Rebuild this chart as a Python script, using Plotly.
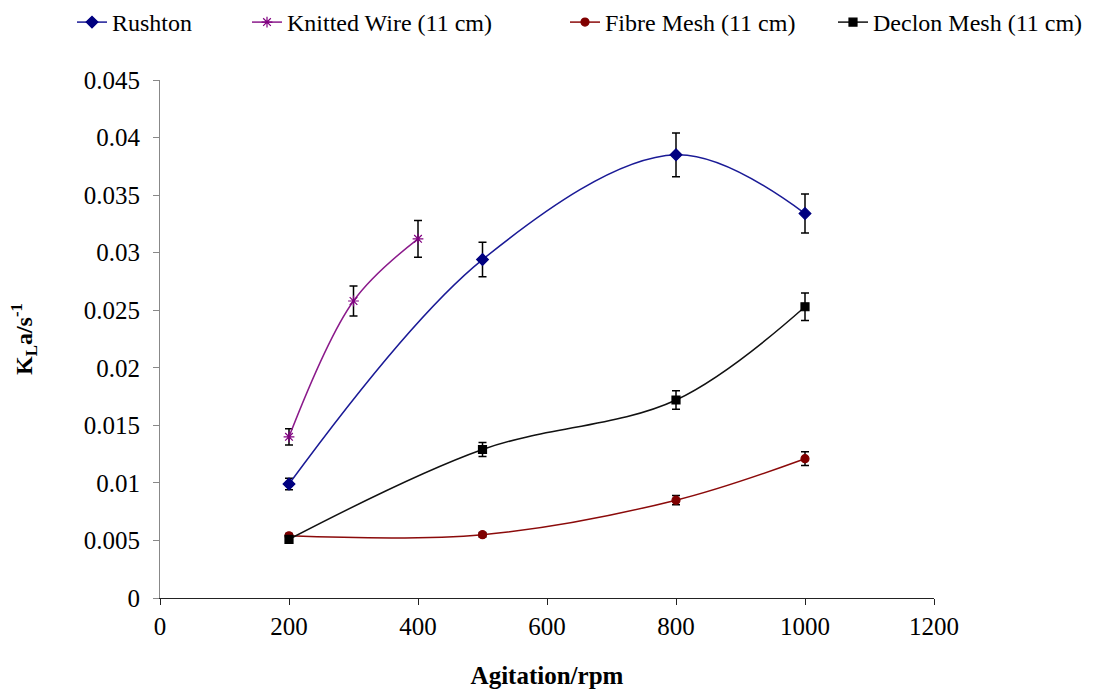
import plotly.graph_objects as go

# Agitation speeds (rpm) and measured KLa values (1/s) with standard errors
rpm_rushton = [200, 500, 800, 1000]
kla_rushton = [0.0099, 0.0294, 0.0385, 0.0334]
err_rushton = [0.0005, 0.0015, 0.0019, 0.0017]

rpm_knitted = [200, 300, 400]
kla_knitted = [0.0140, 0.0258, 0.0312]
err_knitted = [0.0007, 0.0013, 0.0016]

rpm_fibre = [200, 500, 800, 1000]
kla_fibre = [0.0054, 0.0055, 0.0085, 0.0121]
err_fibre = [0.0002, 0.0002, 0.0004, 0.0006]

rpm_declon = [200, 500, 800, 1000]
kla_declon = [0.0051, 0.0129, 0.0172, 0.0253]
err_declon = [0.0002, 0.0006, 0.0008, 0.0012]

FONT = "Times New Roman, Liberation Serif, serif"

series = [
    ("Rushton", rpm_rushton, kla_rushton, err_rushton, "#1a1a96", "#000080", "diamond", 9, "legend"),
    ("Knitted Wire (11 cm)", rpm_knitted, kla_knitted, err_knitted, "#8b1a8b", "#800080", "asterisk-open", 9, "legend2"),
    ("Fibre Mesh (11 cm)", rpm_fibre, kla_fibre, err_fibre, "#8b0a0a", "#800000", "circle", 8, "legend3"),
    ("Declon Mesh (11 cm)", rpm_declon, kla_declon, err_declon, "#111111", "#000000", "square", 8, "legend4"),
]

fig = go.Figure()
for name, x, y, e, lc, mc, sym, size, leg in series:
    fig.add_trace(go.Scatter(
        x=x, y=y, name=name, mode="lines+markers",
        line=dict(color=lc, width=1.5, shape="spline", smoothing=1.0),
        marker=dict(symbol=sym, size=size, color=mc,
                    line=dict(color=mc, width=1.2)),
        error_y=dict(type="data", array=e, visible=True,
                     color="black", thickness=1.5, width=4),
        legend=leg,
    ))

legend_style = dict(orientation="h", yref="container", xref="container",
                    y=1.0, yanchor="top", bgcolor="rgba(0,0,0,0)",
                    font=dict(family=FONT, size=24, color="black"),
                    itemwidth=30)
positions = {"legend": 72, "legend2": 247, "legend3": 565, "legend4": 833}
legends = {k: dict(legend_style, x=v / 1107, xanchor="left") for k, v in positions.items()}

fig.update_layout(
    width=1107, height=691,
    margin=dict(l=160, r=173, t=80, b=93, autoexpand=False),
    paper_bgcolor="white", plot_bgcolor="white",
    font=dict(family=FONT, color="black"),
    showlegend=True,
    **legends,
    xaxis=dict(
        range=[0, 1200], tickvals=[0, 200, 400, 600, 800, 1000, 1200],
        showgrid=False, zeroline=False, automargin=False,
        showline=True, linecolor="#222222", linewidth=1,
        ticks="outside", ticklen=6, tickcolor="#222222",
        tickfont=dict(family=FONT, size=25),
        title=dict(text="<b>Agitation/rpm</b>", font=dict(family=FONT, size=25), standoff=27),
    ),
    yaxis=dict(
        range=[0, 0.045], tickvals=[0, 0.005, 0.01, 0.015, 0.02, 0.025, 0.03, 0.035, 0.04, 0.045],
        ticktext=["0", "0.005", "0.01", "0.015", "0.02", "0.025", "0.03", "0.035", "0.04", "0.045"],
        showgrid=False, zeroline=False, automargin=False,
        showline=True, linecolor="#888888", linewidth=1,
        ticks="outside", ticklen=6, tickcolor="#888888",
        ticklabelstandoff=8,
        tickfont=dict(family=FONT, size=25),
        title=dict(text="<b>K<sub>L</sub>a/s<sup>-1</sup></b>", font=dict(family=FONT, size=24), standoff=44),
    ),
)

fig.write_html("out.html")
